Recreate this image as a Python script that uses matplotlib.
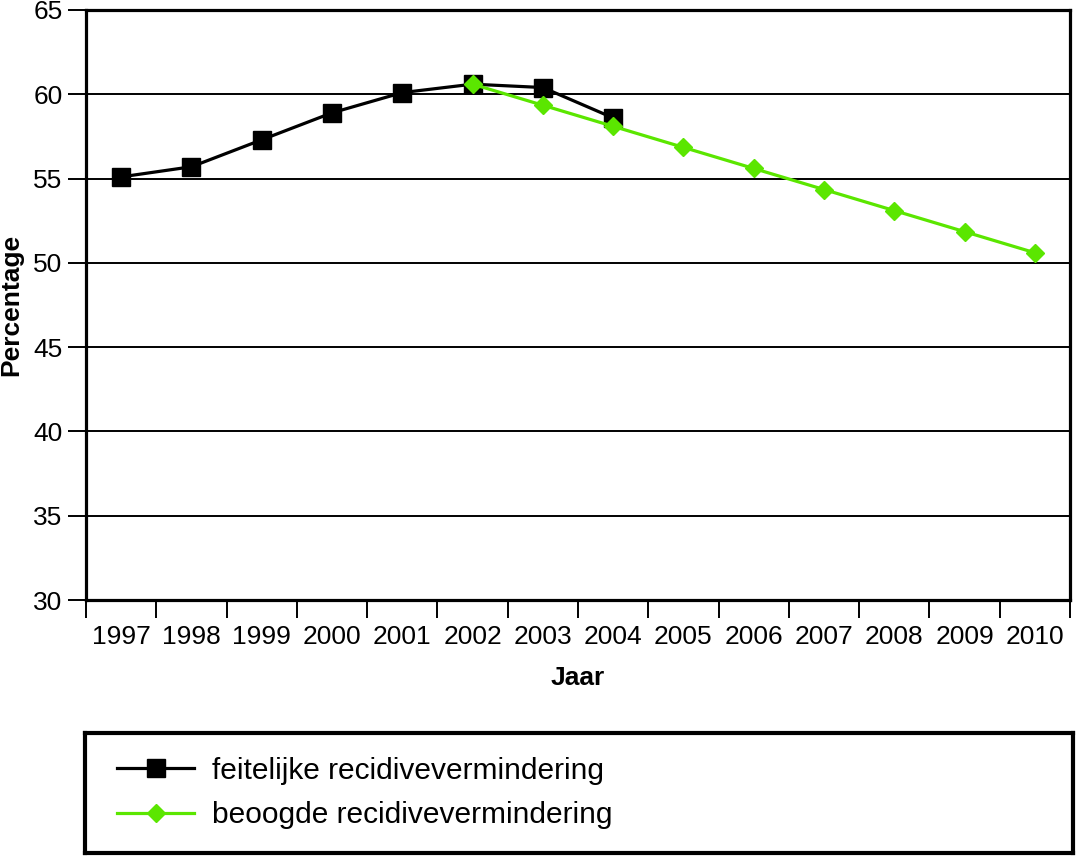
import matplotlib
matplotlib.use("Agg")
import matplotlib.pyplot as plt
import numpy as np

years = ["1997", "1998", "1999", "2000", "2001", "2002", "2003", "2004",
         "2005", "2006", "2007", "2008", "2009", "2010"]
actual_years = ["1997", "1998", "1999", "2000", "2001", "2002", "2003", "2004"]
actual_values = [55.1, 55.7, 57.3, 58.9, 60.1, 60.6, 60.4, 58.6]
target_years = ["2002", "2003", "2004", "2005", "2006", "2007", "2008", "2009", "2010"]
target_values = [60.6, 59.35, 58.1, 56.85, 55.6, 54.35, 53.1, 51.85, 50.6]
y_ticks = [30, 35, 40, 45, 50, 55, 60, 65]
label_actual = "feitelijke recidivevermindering"
label_target = "beoogde recidivevermindering"

plt.rcParams['font.family'] = ['Liberation Sans', 'DejaVu Sans']

W, H = 1079, 856
fig = plt.figure(figsize=(W / 100, H / 100), dpi=100)

def rect(x0, y0, x1, y1):
    return [x0 / W, 1 - y1 / H, (x1 - x0) / W, (y1 - y0) / H]

ax = fig.add_axes(rect(86, 10, 1070, 600))
idx = {y: i for i, y in enumerate(years)}
xa = [idx[y] for y in actual_years]
xt = [idx[y] for y in target_years]

green = '#5BE600'
l1, = ax.plot(xa, actual_values, color='black', lw=2.3, marker='s', ms=13.5,
              mfc='black', mec='black', label=label_actual, zorder=3)
l2, = ax.plot(xt, target_values, color=green, lw=2.3, marker='D', ms=9.5,
              mfc=green, mec=green, label=label_target, zorder=4)

ax.set_xlim(-0.5, len(years) - 0.5)
ax.set_ylim(30, 65)
ax.set_yticks(y_ticks)
ax.set_yticklabels([str(v) for v in y_ticks])
ax.yaxis.grid(True, color='black', lw=1.4)
ax.set_axisbelow(True)

ax.set_xticks(np.arange(-0.5, len(years), 1.0))
ax.set_xticklabels([])
ax.set_xticks(np.arange(len(years)), minor=True)
ax.set_xticklabels(years, minor=True)
ax.tick_params(axis='x', which='major', length=13, width=1.4, direction='out', color='black')
ax.tick_params(axis='x', which='minor', length=0, pad=18, labelsize=19)
ax.tick_params(axis='y', which='major', length=13, width=1.4, direction='out', pad=4, labelsize=19)

for s in ax.spines.values():
    s.set_linewidth(2.3)
    s.set_color('black')

ax.set_xlabel("Jaar", fontsize=19, fontweight='bold', labelpad=12)
ax.set_ylabel("Percentage", fontsize=19, fontweight='bold')
ax.yaxis.set_label_coords(-0.064, 0.5)

lax = fig.add_axes(rect(85, 733, 1073, 853))
lax.set_xticks([])
lax.set_yticks([])
for s in lax.spines.values():
    s.set_linewidth(3)
    s.set_color('black')
lax.legend(handles=[l1, l2], loc='center left', bbox_to_anchor=(0.02, 0.5),
           frameon=False, fontsize=21.5, handlelength=2.6, handletextpad=0.6,
           labelspacing=0.55, borderaxespad=0)

fig.savefig("out.png", dpi=100)
